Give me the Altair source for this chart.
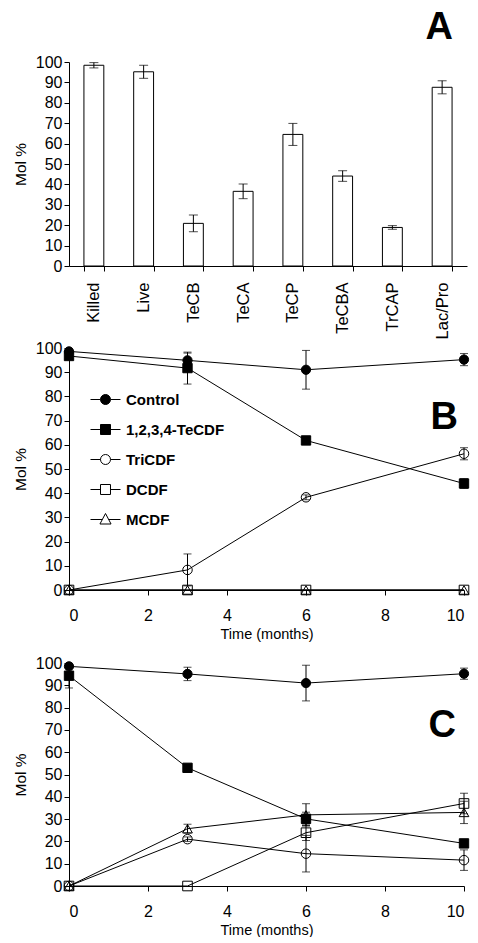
import altair as alt
import pandas as pd

FONT = "Liberation Sans"

# ---------------- Panel A data ----------------
cats = ["Killed", "Live", "TeCB", "TeCA", "TeCP", "TeCBA", "TrCAP", "Lac/Pro"]
a_vals = [98.4, 95.2, 20.9, 36.6, 64.5, 44.1, 18.9, 87.6]
a_errs = [1.3, 3.2, 4.1, 3.6, 5.4, 2.6, 0.9, 3.2]

# ---------------- Panels B and C data ----------------
months = [0, 3, 6, 10]
series = ["Control", "1,2,3,4-TeCDF", "TriCDF", "DCDF", "MCDF"]

b_control = [98.6, 94.9, 91.0, 95.2]
b_control_err = [1.0, 3.0, 8.0, 2.5]
b_tecdf = [96.7, 91.7, 61.8, 44.0]
b_tecdf_err = [1.0, 6.6, 1.0, 2.0]
b_tricdf = [0.0, 8.3, 38.3, 56.3]
b_tricdf_err = [0.0, 6.6, 1.0, 2.5]
b_dcdf = [0.0, 0.0, 0.0, 0.0]
b_dcdf_err = [0.0, 0.0, 0.0, 0.0]
b_mcdf = [0.0, 0.0, 0.0, 0.0]
b_mcdf_err = [0.0, 0.0, 0.0, 0.0]

c_control = [98.5, 95.1, 91.0, 95.2]
c_control_err = [1.0, 3.0, 8.0, 2.5]
c_tecdf = [94.3, 53.0, 30.1, 19.1]
c_tecdf_err = [5.5, 0.5, 3.0, 1.0]
c_tricdf = [0.0, 21.0, 14.5, 11.6]
c_tricdf_err = [0.0, 1.0, 8.2, 4.6]
c_dcdf = [0.0, 0.0, 23.9, 37.0]
c_dcdf_err = [0.0, 0.0, 3.5, 4.6]
c_mcdf = [0.0, 25.7, 31.9, 33.0]
c_mcdf_err = [0.0, 2.0, 5.0, 5.0]

y_ticks = [0, 10, 20, 30, 40, 50, 60, 70, 80, 90, 100]
x_ticks = [0, 2, 4, 6, 8, 10]

shapes = ["circle", "square", "circle", "square", "triangle-up"]
fills = ["black", "black", "transparent", "transparent", "transparent"]
strokes = ["black", "black", "black", "black", "black"]
sizes = [85, 95, 85, 90, 95]
legend_paths = [
    "M-1,0L-0.333,0M0.333,0L1,0M-0.333,0A0.333,0.333,0,1,0,0.333,0A0.333,0.333,0,1,0,-0.333,0Z",
    "M-1,0L-0.333,0M0.333,0L1,0M-0.333,-0.333L0.333,-0.333L0.333,0.333L-0.333,0.333Z",
    "M-1,0L-0.333,0M0.333,0L1,0M-0.333,0A0.333,0.333,0,1,0,0.333,0A0.333,0.333,0,1,0,-0.333,0Z",
    "M-1,0L-0.333,0M0.333,0L1,0M-0.333,-0.333L0.333,-0.333L0.333,0.333L-0.333,0.333Z",
    "M-1,0L-0.21,0M0.21,0L1,0M0,-0.4L0.37,0.3L-0.37,0.3Z",
]


def y_axis():
    return alt.Axis(title="Mol %", values=y_ticks, labelOverlap=False,
                    labelPadding=2, titlePadding=7, tickSize=5, titleFontSize=15.5)


def y_enc(field):
    return alt.Y(field, type="quantitative", scale=alt.Scale(domain=[0, 100], nice=False),
                 axis=y_axis())


# ---------------- Panel A ----------------
dfA = pd.DataFrame({"cat": cats, "val": a_vals, "err": a_errs})
dfA["lo"] = dfA["val"] - dfA["err"]
dfA["hi"] = dfA["val"] + dfA["err"]


def xA():
    return alt.X("cat:N", sort=cats,
                 scale=alt.Scale(paddingInner=0.6, paddingOuter=0.3),
                 axis=alt.Axis(title=None, labelAngle=-90, tickBand="extent",
                               labelPadding=11, tickSize=5, labelFontSize=16.5))


baseA = alt.Chart(dfA)
barsA = baseA.mark_bar(fill="white", stroke="black", strokeWidth=1).encode(x=xA(), y=y_enc("val"))
rulesA = baseA.mark_rule(color="black", strokeWidth=1).encode(x=xA(), y=y_enc("lo"), y2="hi:Q")
capHiA = baseA.mark_tick(orient="horizontal", size=9, thickness=1, color="black").encode(
    x=xA(), y=y_enc("hi"))
capLoA = baseA.mark_tick(orient="horizontal", size=9, thickness=1, color="black").encode(
    x=xA(), y=y_enc("lo"))
labA = alt.Chart(pd.DataFrame({"t": ["A"], "cat": ["Lac/Pro"], "v": [116.7]})).mark_text(
    font=FONT, fontSize=38, fontWeight="bold", baseline="middle", align="center", dx=-3,
    color="black").encode(x=xA(), y=y_enc("v"), text="t:N")

panelA = alt.layer(barsA, rulesA, capHiA, capLoA, labA).properties(width=398, height=204)


# ---------------- Line panels ----------------
def make_df(vals, errs):
    rows = []
    for s, v, e in zip(series, vals, errs):
        for t, vv, ee in zip(months, v, e):
            rows.append({"s": s, "t": t, "v": vv, "lo": vv - ee, "hi": vv + ee, "e": ee})
    return pd.DataFrame(rows)


def legend_def():
    return alt.Legend(title=None, orient="none", legendX=21, legendY=36,
                      symbolSize=900, symbolStrokeWidth=1,
                      labelFont=FONT, labelFontSize=15,
                      labelFontWeight="bold", labelColor="black",
                      labelOffset=5, rowPadding=6, padding=0)


def x_enc():
    return alt.X("t:Q", scale=alt.Scale(domain=[0, 10], nice=False),
                 axis=alt.Axis(title="Time (months)", values=x_ticks, labelOverlap=False,
                               labelPadding=12, titlePadding=4, tickSize=5,
                               titleFontSize=14.5))


def line_panel(df, letter, lx, ly, height, with_legend):
    base = alt.Chart(df)
    lines = base.mark_line(color="black", strokeWidth=1).encode(
        x=x_enc(), y=y_enc("v"), detail="s:N", order="t:Q")
    errd = base.transform_filter("datum.e > 0")
    rules = errd.mark_rule(color="black", strokeWidth=1).encode(x=x_enc(), y=y_enc("lo"), y2="hi:Q")
    capHi = errd.mark_tick(orient="horizontal", size=8, thickness=1, color="black").encode(
        x=x_enc(), y=y_enc("hi"))
    capLo = errd.mark_tick(orient="horizontal", size=8, thickness=1, color="black").encode(
        x=x_enc(), y=y_enc("lo"))
    pts = base.mark_point(filled=False, stroke="black", strokeWidth=1, opacity=1).encode(
        x=x_enc(), y=y_enc("v"),
        shape=alt.Shape("s:N", scale=alt.Scale(domain=series, range=shapes), legend=None),
        fill=alt.Fill("s:N", scale=alt.Scale(domain=series, range=fills), legend=None),
        size=alt.Size("s:N", scale=alt.Scale(domain=series, range=sizes), legend=None),
    )
    lab = alt.Chart(pd.DataFrame({"t": [lx], "v": [ly], "txt": [letter]})).mark_text(
        font=FONT, fontSize=38, fontWeight="bold", baseline="middle", align="center",
        color="black").encode(x=x_enc(), y=y_enc("v"), text="txt:N")
    layers = [lines, rules, capHi, capLo, pts, lab]
    if with_legend:
        leg = alt.Chart(df).transform_filter("false").mark_point(
            filled=False, strokeWidth=1, opacity=1).encode(
            x=x_enc(), y=y_enc("v"),
            shape=alt.Shape("s:N", scale=alt.Scale(domain=series, range=legend_paths),
                            legend=legend_def()),
            fill=alt.Fill("s:N", scale=alt.Scale(domain=series, range=fills),
                          legend=legend_def()),
            stroke=alt.Stroke("s:N", scale=alt.Scale(domain=series, range=strokes),
                              legend=legend_def()),
        )
        layers.append(leg)
    ch = alt.layer(*layers).resolve_scale(shape="independent", fill="independent",
                                          size="independent", stroke="independent")
    return ch.properties(width=395, height=height)


dfB = make_df([b_control, b_tecdf, b_tricdf, b_dcdf, b_mcdf],
              [b_control_err, b_tecdf_err, b_tricdf_err, b_dcdf_err, b_mcdf_err])
dfC = make_df([c_control, c_tecdf, c_tricdf, c_dcdf, c_mcdf],
              [c_control_err, c_tecdf_err, c_tricdf_err, c_dcdf_err, c_mcdf_err])

panelB = line_panel(dfB, "B", 9.5, 71.1, 242, True)
panelC = line_panel(dfC, "C", 9.45, 71.9, 223, False)

chart = alt.vconcat(panelA, alt.vconcat(panelB, panelC, spacing=14), spacing=1).properties(
    padding={"left": 13, "top": 8, "right": 0, "bottom": 0}
).configure_view(stroke=None).configure_axis(
    labelFont=FONT, titleFont=FONT, labelColor="black", titleColor="black",
    domainColor="black", tickColor="black", grid=False, labelFontSize=16,
    titleFontSize=15, titleFontWeight="normal", domainWidth=1, tickWidth=1
).configure_legend(
    labelFont=FONT
)

chart.save("out.html", embed_options={"renderer": "svg", "actions": False})
